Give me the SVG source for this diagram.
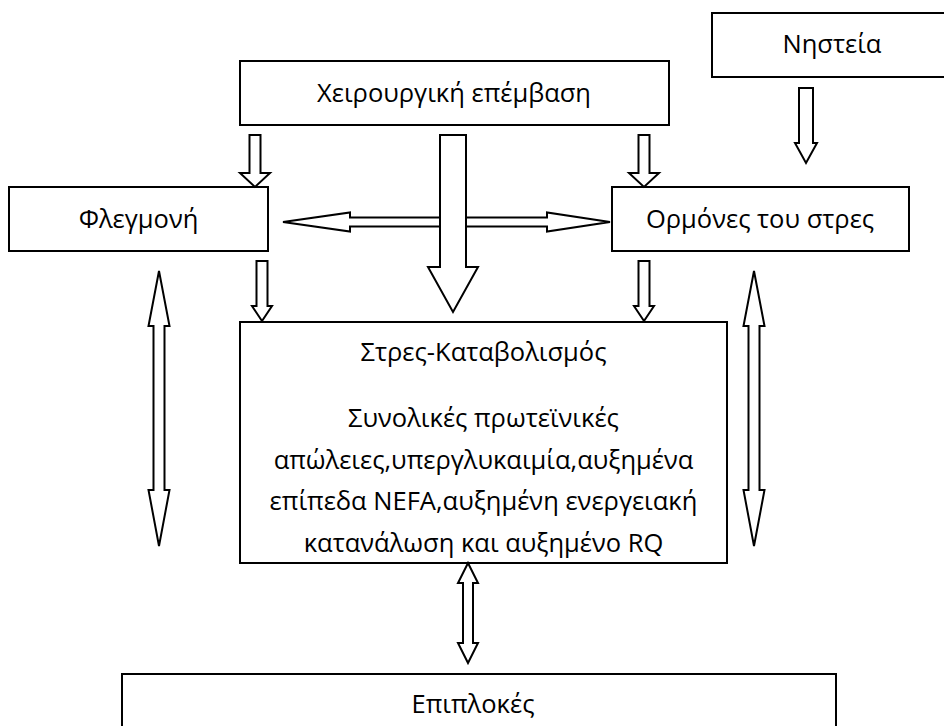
<svg xmlns="http://www.w3.org/2000/svg" width="944" height="726" viewBox="0 0 944 726">
<style>
.box{fill:#fff;stroke:#000;stroke-width:2}
.arr{fill:#fff;stroke:#000;stroke-width:2;stroke-linejoin:miter}
.t{font-family:"Open Sans","Noto Sans","DejaVu Sans",sans-serif;font-size:25.5px;fill:#000;text-anchor:middle}
</style>
<rect width="944" height="726" fill="#fff"/>
<g id="n-surgery"><rect class="box" x="240" y="61" width="429" height="64"/><text class="t" x="454" y="102">Χειρουργική επέμβαση</text></g>
<g id="n-fasting"><rect class="box" x="712" y="13" width="245" height="64"/><text class="t" x="832" y="53">Νηστεία</text></g>
<g id="n-inflammation"><rect class="box" x="9" y="187" width="259" height="64"/><text class="t" x="138.5" y="228">Φλεγμονή</text></g>
<g id="n-hormones"><rect class="box" x="612" y="187" width="297" height="64"/><text class="t" x="760" y="228">Ορμόνες του στρες</text></g>
<g id="n-catabolism"><rect class="box" x="240" y="322" width="487" height="241"/>
<text class="t" x="483.5" y="361">Στρες-Καταβολισμός</text>
<text class="t" x="483.5" y="427">Συνολικές πρωτεϊνικές</text>
<text class="t" x="483.5" y="468.5">απώλειες,υπεργλυκαιμία,αυξημένα</text>
<text class="t" x="483.5" y="510">επίπεδα NEFA,αυξημένη ενεργειακή</text>
<text class="t" x="483.5" y="551.5">κατανάλωση και αυξημένο RQ</text></g>
<g id="n-complications"><rect class="box" x="122" y="674" width="714" height="80"/><text class="t" x="473" y="713">Επιπλοκές</text></g>
<g id="connectors">
<polygon class="arr" points="283,222 350,212.5 350,217.5 547,217.5 547,212.5 610,222 547,231.5 547,226.5 350,226.5 350,231.5"/>
<polygon class="arr" points="440,135 466,135 466,267 478,267 453,312 428,267 440,267"/>
<polygon class="arr" points="249.5,135 260.5,135 260.5,173 270,173 255,187 240,173 249.5,173"/>
<polygon class="arr" points="638.5,135 649.5,135 649.5,173 659,173 644,187 629,173 638.5,173"/>
<polygon class="arr" points="799,88 813,88 813,143 817,143 806,163 795,143 799,143"/>
<polygon class="arr" points="256.5,261 267.5,261 267.5,306 272,306 262,321 252,306 256.5,306"/>
<polygon class="arr" points="638.5,261 649.5,261 649.5,306 654,306 644,321 634,306 638.5,306"/>
<polygon class="arr" points="159,271 169.5,326 164.5,326 164.5,490 169.5,490 159,546 148.5,490 153.5,490 153.5,326 148.5,326"/>
<polygon class="arr" points="754,271 764.5,326 759.5,326 759.5,490 764.5,490 754,546 743.5,490 748.5,490 748.5,326 743.5,326"/>
<polygon class="arr" points="468,563 478,583 473,583 473,643 478,643 468,663 458,643 463,643 463,583 458,583"/>
</g>
</svg>
